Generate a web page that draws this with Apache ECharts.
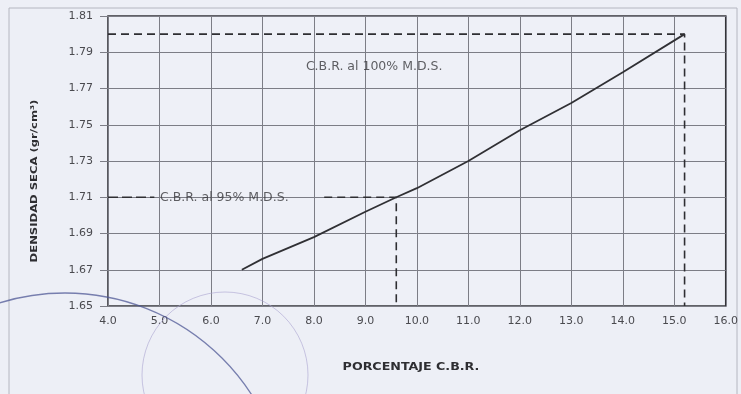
<!DOCTYPE html>
<html>
<head>
<meta charset="utf-8">
<script src="https://cdn.jsdelivr.net/npm/echarts@6/dist/echarts.min.js"></script>
<style>
html,body{margin:0;padding:0;background:#edeff6;}
#chart{width:741px;height:394px;}
</style>
</head>
<body>
<div id="chart"></div>
<script>
// ---- data ----
const xTicks = ['4.0','5.0','6.0','7.0','8.0','9.0','10.0','11.0','12.0','13.0','14.0','15.0','16.0'];
const yTicks = ['1.65','1.67','1.69','1.71','1.73','1.75','1.77','1.79','1.81'];
const cbrValues = [6.6, 7.0, 8.0, 9.0, 9.6, 10.0, 11.0, 12.0, 13.0, 14.0, 15.2];
const densValues = [1.670, 1.676, 1.688, 1.702, 1.710, 1.715, 1.730, 1.747, 1.762, 1.779, 1.800];
const cbr100 = 15.2, mds100 = 1.80;
const cbr95 = 9.6, mds95 = 1.71;
const label100 = 'C.B.R. al 100% M.D.S.';
const label95 = 'C.B.R. al 95% M.D.S.';
const label100At = [9.17, 1.782];
const label95At = [6.26, 1.71];
const gap95 = [4.9, 8.2];   // where the 95% dashed line is interrupted by its label
const xTitle = 'PORCENTAJE C.B.R.';
const yTitle = 'DENSIDAD SECA (gr/cm³)';

const xMin = 4, xMax = 16, xStep = 1;
const yBase = 1.65, yTop = 1.81, yStep = 0.02;

// values are drawn relative to yBase so the ticks start exactly at 1.65
const rel = v => +(v - yBase).toFixed(4);
const pt = (x, y) => [x, rel(y)];

const chart = echarts.init(document.getElementById('chart'));
const dash = {color:'#2e2e32', width:1.6, type:[8,5]};

chart.setOption({
  backgroundColor:'#edeff6',
  animation:false,
  grid:{left:108, right:13, top:16, bottom:88, show:true, borderColor:'#333338', borderWidth:1.6, backgroundColor:'#eef0f7'},
  xAxis:{
    type:'value', min:xMin, max:xMax, interval:xStep,
    axisLine:{show:false}, axisTick:{show:false},
    splitLine:{show:true, lineStyle:{color:'#7c7d86', width:1}},
    axisLabel:{margin:10, color:'#4a4a4f', fontFamily:'DejaVu Sans', fontSize:11,
      formatter:v => xTicks[Math.round((v - xMin)/xStep)] }
  },
  yAxis:{
    type:'value', min:0, max:rel(yTop), interval:yStep,
    axisLine:{show:false},
    axisTick:{show:true, length:8, lineStyle:{color:'#7c7d86'}},
    splitLine:{show:true, lineStyle:{color:'#7c7d86', width:1}},
    axisLabel:{margin:15, color:'#4a4a4f', fontFamily:'DejaVu Sans', fontSize:11,
      formatter:v => yTicks[Math.round(v/yStep)] }
  },
  graphic:[
    {type:'rect', shape:{x:9, y:8, width:728, height:400}, style:{fill:'none', stroke:'#b4b6c0', lineWidth:1}, silent:true, z:-1},
    {type:'circle', shape:{cx:65, cy:515, r:222}, style:{fill:'none', stroke:'#4f5896', lineWidth:1.3, opacity:0.75}, silent:true, z:100},
    {type:'circle', shape:{cx:225, cy:375, r:83}, style:{fill:'none', stroke:'#aaa4d0', lineWidth:1, opacity:0.6}, silent:true, z:100},
    {type:'text', x:411, y:367, scaleX:1.15,
      style:{text:xTitle, font:'bold 11px "DejaVu Sans"', fill:'#2e2e32', align:'center', verticalAlign:'middle'}},
    {type:'text', x:35, y:181, rotation:Math.PI/2, scaleX:1.22,
      style:{text:yTitle, font:'bold 9.5px "DejaVu Sans"', fill:'#2e2e32', align:'center', verticalAlign:'middle'}}
  ],
  series:[
    {type:'line', symbol:'none', data:cbrValues.map((x,i)=>pt(x, densValues[i])),
      lineStyle:{color:'#303034', width:1.8}, z:5},
    {type:'line', symbol:'none', data:[pt(xMin, mds100), pt(cbr100, mds100), pt(cbr100, yBase)],
      lineStyle:dash, z:4},
    {type:'line', symbol:'none', data:[pt(xMin, mds95), pt(gap95[0], mds95)],
      lineStyle:{color:'#2e2e32', width:1.6, type:[10,4]}, z:4},
    {type:'line', symbol:'none', data:[pt(gap95[1], mds95), pt(cbr95, mds95), pt(cbr95, yBase)],
      lineStyle:dash, z:4},
    {type:'scatter', symbolSize:0, silent:true, z:6,
      data:[
        {value:pt(label100At[0], label100At[1]), name:label100},
        {value:pt(label95At[0], label95At[1]), name:label95}
      ],
      label:{show:true, position:'inside', formatter:p => p.name, color:'#38383c',
        fontFamily:'DejaVu Sans', fontSize:12.5}
    }
  ]
});
</script>
</body>
</html>
